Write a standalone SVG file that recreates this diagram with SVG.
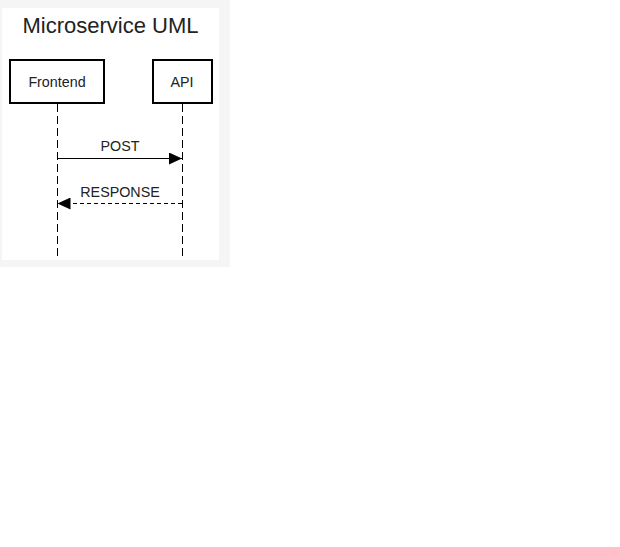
<svg xmlns="http://www.w3.org/2000/svg" width="620" height="547" viewBox="0 0 620 547">
<defs>
<style>
text{font-family:"Liberation Sans",Arial,sans-serif;fill:#222}
.box{fill:#fff;stroke:#000;stroke-width:2}
.life{stroke:#000;stroke-width:1;stroke-dasharray:8 4;fill:none}
.msg{stroke:#000;stroke-width:1;fill:none}
</style>
<marker id="ah" viewBox="0 0 13 12" refX="13" refY="6" markerWidth="13" markerHeight="12" markerUnits="userSpaceOnUse" orient="auto">
<path d="M0,0 L13,6 L0,12 Z" fill="#000"/>
</marker>
</defs>
<rect x="0" y="0" width="230" height="267" fill="#f5f5f5"/>
<rect x="2" y="8" width="217" height="252" fill="#fff"/>
<text x="110.5" y="33" font-size="22" text-anchor="middle">Microservice UML</text>
<g id="lifelines">
<line class="life" x1="57.5" y1="104" x2="57.5" y2="260"/>
<line class="life" x1="182.5" y1="104" x2="182.5" y2="260"/>
</g>
<g id="frontend">
<rect class="box" x="10" y="60" width="94" height="43"/>
<text x="57" y="87" font-size="14.3" text-anchor="middle">Frontend</text>
</g>
<g id="api">
<rect class="box" x="153" y="60" width="59" height="43"/>
<text x="182" y="87" font-size="14.3" text-anchor="middle">API</text>
</g>
<g id="connectors">
<line class="msg" x1="57.5" y1="158.5" x2="182" y2="158.5" marker-end="url(#ah)"/>
<text x="120" y="151" font-size="14.3" text-anchor="middle">POST</text>
<line class="msg" x1="182" y1="203.5" x2="57.5" y2="203.5" stroke-dasharray="4 3" marker-end="url(#ah)"/>
<text x="120" y="197" font-size="14.3" text-anchor="middle">RESPONSE</text>
</g>
</svg>
